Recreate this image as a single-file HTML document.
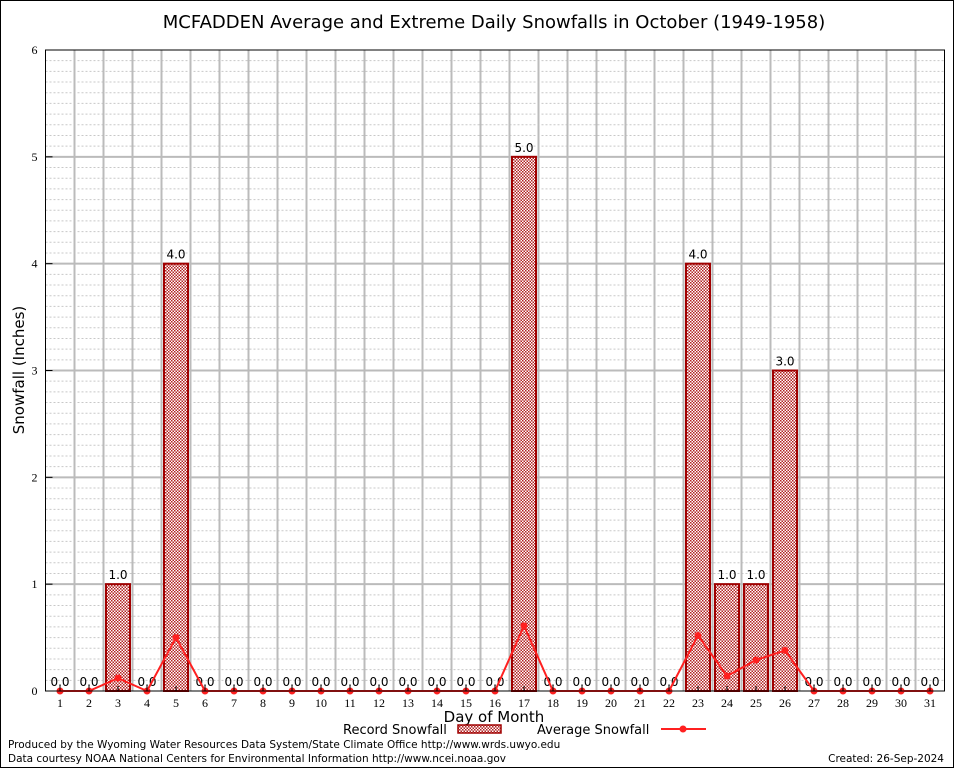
<!DOCTYPE html>
<html><head><meta charset="utf-8"><style>
body{margin:0;background:#fff;}
svg{display:block;font-family:"DejaVu Sans","Liberation Sans",sans-serif;}
</style></head><body>
<svg id="chart" width="954" height="768" viewBox="0 0 954 768">
<defs>
<pattern id="chk" width="3" height="3" patternUnits="userSpaceOnUse">
<rect width="3" height="3" fill="#fff"/><rect width="1.5" height="1.5" fill="#b22222"/><rect x="1.5" y="1.5" width="1.5" height="1.5" fill="#b22222"/>
</pattern>
</defs>
<rect x="0.5" y="0.5" width="953" height="767" fill="#fff" stroke="#000"/>
<text x="494" y="28" font-size="18" text-anchor="middle">MCFADDEN Average and Extreme Daily Snowfalls in October (1949-1958)</text>
<g id="grid"></g>
<g id="bars"></g>
<g id="line"></g>
<g id="axes"></g>
<text x="24" y="370" font-size="15" text-anchor="middle" transform="rotate(-90 24 370)">Snowfall (Inches)</text>
<text x="494" y="722" font-size="15" text-anchor="middle">Day of Month</text>
<g>
<text x="343" y="734" font-size="13">Record Snowfall</text>
<rect x="458" y="725" width="43" height="8" fill="url(#chk)" stroke="#a00000" stroke-width="1.5"/>
<text x="537" y="734" font-size="13">Average Snowfall</text>
<line x1="661" y1="729" x2="706" y2="729" stroke="#ff2020" stroke-width="2"/>
<circle cx="683" cy="729" r="3.5" fill="#ff2020"/>
</g>
<text x="8" y="748" font-size="10.5">Produced by the Wyoming Water Resources Data System/State Climate Office http://www.wrds.uwyo.edu</text>
<text x="8" y="762" font-size="10.5">Data courtesy NOAA National Centers for Environmental Information http://www.ncei.noaa.gov</text>
<text x="944" y="762" font-size="10.5" text-anchor="end">Created:  26-Sep-2024</text>
</svg>
<script>
const days = [1,2,3,4,5,6,7,8,9,10,11,12,13,14,15,16,17,18,19,20,21,22,23,24,25,26,27,28,29,30,31];
const recordSnow = [0,0,1,0,4,0,0,0,0,0,0,0,0,0,0,0,5,0,0,0,0,0,4,1,1,3,0,0,0,0,0];
const avgSnow = [0,0,0.12,0,0.5,0,0,0,0,0,0,0,0,0,0,0,0.61,0,0,0,0,0,0.52,0.14,0.29,0.38,0,0,0,0,0];
const yTicks = [0,1,2,3,4,5,6];
const NS="http://www.w3.org/2000/svg";
const L=45.5,R=944.5,T=50,B=691,yMax=6;
const xs=d=>L+(d-0.5)*(R-L)/31;
const ys=v=>B-v*(B-T)/yMax;
function mk(tag,attrs,parent){const e=document.createElementNS(NS,tag);for(const k in attrs)e.setAttribute(k,attrs[k]);parent.appendChild(e);return e;}
const grid=document.getElementById('grid'),bars=document.getElementById('bars'),line=document.getElementById('line'),axes=document.getElementById('axes');
mk('rect',{x:L,y:T,width:R-L,height:B-T,fill:'#fff'},grid);
for(let i=1;i<yMax*10;i++){if(i%10===0)continue;const y=ys(i/10);
const g=mk('line',{x1:L,x2:R,y1:y,y2:y,stroke:'#c8c8c8','stroke-dasharray':'2,2','stroke-width':1},grid);

}
for(let i=1;i<31;i++){const x=xs(i+0.5);
const g=mk('line',{x1:x,x2:x,y1:T,y2:B,stroke:'#bbb','stroke-width':2},grid);

}
yTicks.forEach(t=>{const y=ys(t);
if(t>0&&t<yMax){const g=mk('line',{x1:L,x2:R,y1:y,y2:y,stroke:'#bbb','stroke-width':2},grid);

}
const tk=mk('line',{x1:L,x2:L+7,y1:y,y2:y,stroke:'#000'},axes);


const tx=mk('text',{x:L-8,y:y+4,'font-size':12,'text-anchor':'end','font-family':'Liberation Serif, serif'},axes);tx.textContent=t;

});
days.forEach((d,i)=>{const x=xs(d),v=recordSnow[i];
if(v>0){const r=mk('rect',{x:x-12,y:ys(v),width:24,height:B-ys(v),fill:'url(#chk)',stroke:'#a00000','stroke-width':2},bars);

}
const lb=mk('text',{x:x,y:ys(v)-5,'font-size':12,'text-anchor':'middle'},bars);lb.textContent=v.toFixed(1);


const tk=mk('line',{x1:x,x2:x,y1:B,y2:B-5,stroke:'#000'},axes);


const tx=mk('text',{x:x,y:B+16,'font-size':12,'text-anchor':'middle','font-family':'Liberation Serif, serif'},axes);tx.textContent=d;

});
const pts=days.map((d,i)=>xs(d)+','+ys(avgSnow[i])).join(' ');
const pl=mk('polyline',{points:pts,fill:'none',stroke:'#ff2020','stroke-width':2},line);


days.forEach((d,i)=>{const c=mk('circle',{cx:xs(d),cy:ys(avgSnow[i]),r:3.5,fill:'#ff2020'},line);

});
const ax=mk('rect',{x:L,y:T,width:R-L,height:B-T,fill:'none',stroke:'#000','stroke-width':1},axes);


</script>
</body></html>
